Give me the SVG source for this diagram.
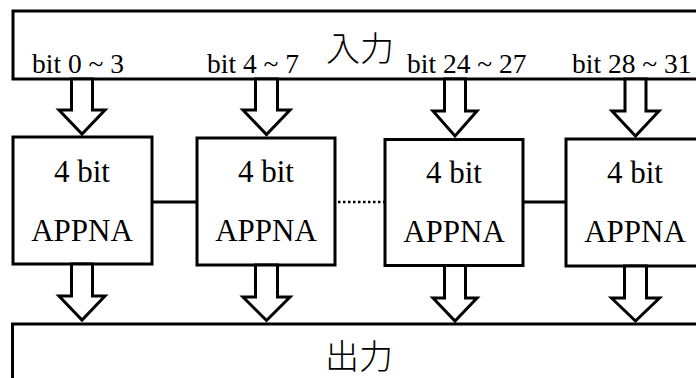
<svg xmlns="http://www.w3.org/2000/svg" width="696" height="378" viewBox="0 0 696 378">
  <defs>
    <style>
      .box { fill: #fff; stroke: #000; stroke-width: 3; }
      .bus { fill: none; stroke: #000; stroke-width: 3; }
      .arrow { fill: #fff; stroke: #000; stroke-width: 3; stroke-linejoin: miter; }
      .link { stroke: #000; stroke-width: 3; fill: none; }
      .dots { stroke: #000; stroke-width: 2.5; stroke-dasharray: 2.5 2.5; fill: none; }
      .serif { font-family: 'Liberation Serif', 'DejaVu Serif', serif; }
      .lbl { font-size: 27.5px; fill: #000; }
      .node { font-size: 31px; fill: #000; text-anchor: middle; }
      .cjk { font-family: 'Noto Sans CJK TC', 'Noto Sans CJK SC', sans-serif; font-weight: 300; font-size: 34px; fill: #000; text-anchor: middle; }
    </style>
  </defs>

  <rect width="696" height="378" fill="#fff"/>

  <!-- input bus -->
  <g id="input">
    <rect class="bus" x="13" y="11" width="720" height="68"/>
    <text class="cjk" x="360" y="61">入力</text>
    <text class="lbl serif" x="32" y="72.5">bit 0 ~ 3</text>
    <text class="lbl serif" x="207" y="72.5">bit 4 ~ 7</text>
    <text class="lbl serif" x="407" y="72.5">bit 24 ~ 27</text>
    <text class="lbl serif" x="572" y="72.5">bit 28 ~ 31</text>
  </g>

  <!-- output bus -->
  <g id="output">
    <rect class="bus" x="12.5" y="324" width="720" height="80"/>
    <text class="cjk" x="359" y="369">出力</text>
  </g>

  <!-- 4-bit APPNA slices -->
  <g id="appna0">
    <rect class="box" x="13" y="137" width="139" height="127"/>
    <text class="node serif" x="82" y="182">4 bit</text>
    <text class="node serif" x="82" y="241">APPNA</text>
  </g>
  <g id="appna1">
    <rect class="box" x="197" y="138" width="138" height="127"/>
    <text class="node serif" x="266" y="182">4 bit</text>
    <text class="node serif" x="266" y="241">APPNA</text>
  </g>
  <g id="appna6">
    <rect class="box" x="385" y="139.5" width="138" height="126"/>
    <text class="node serif" x="454" y="183">4 bit</text>
    <text class="node serif" x="454" y="242">APPNA</text>
  </g>
  <g id="appna7">
    <rect class="box" x="566" y="139" width="140" height="127"/>
    <text class="node serif" x="635" y="183">4 bit</text>
    <text class="node serif" x="635" y="242">APPNA</text>
  </g>

  <!-- connectors: carry chain and block arrows -->
  <g id="connectors">
    <line class="link" x1="152" y1="202" x2="197" y2="202"/>
    <line class="dots" x1="338" y1="202" x2="384" y2="202"/>
    <line class="link" x1="523" y1="202" x2="566" y2="202"/>

    <!-- input bus to slices -->
    <polygon class="arrow" points="71.5,79 92.5,79 92.5,110 105,110 82,134 59,110 71.5,110"/>
    <polygon class="arrow" points="255.5,79 277.5,79 277.5,110 290,110 266.5,134.5 243,110 255.5,110"/>
    <polygon class="arrow" points="444.5,79 465.5,79 465.5,111 477,111 455,136 433,111 444.5,111"/>
    <polygon class="arrow" points="625,79 646,79 646,111 659,111 635.5,136 612,111 625,111"/>

    <!-- slices to output bus -->
    <polygon class="arrow" points="71.5,264 92.5,264 92.5,296 105,296 82,320 59,296 71.5,296"/>
    <polygon class="arrow" points="255.5,265 277.5,265 277.5,297 290,297 266.5,320.5 243,297 255.5,297"/>
    <polygon class="arrow" points="444.5,265.5 465.5,265.5 465.5,298 477,298 455,321 433,298 444.5,298"/>
    <polygon class="arrow" points="624.5,266 646.5,266 646.5,298 659.5,298 635.5,321 611.5,298 624.5,298"/>
  </g>
</svg>
